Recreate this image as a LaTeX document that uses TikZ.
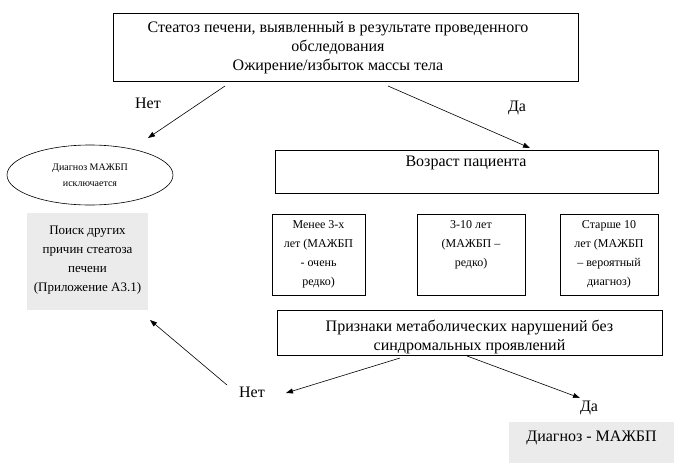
\documentclass[tikz,border=0pt]{standalone}
\usepackage{fontspec}
\setmainfont{Liberation Serif}
\usetikzlibrary{shapes.geometric,arrows.meta}
\begin{document}
\begin{tikzpicture}[x=1pt,y=-1pt,
  box/.style={draw,line width=0.8pt},
  gbox/.style={fill=black!8},
  arr/.style={-{Triangle[length=7pt,width=5pt]},line width=0.6pt},
  t/.style={font=\fontsize{16}{19}\selectfont,align=center,inner sep=0pt},
  ts/.style={font=\fontsize{10}{16}\selectfont,align=center,inner sep=0pt}]
\useasboundingbox (0,0) rectangle (674,463);
\draw[box] (113,13) rectangle (578,81);
\node[t] (top) at (338,48) {Стеатоз печени, выявленный в результате проведенного\\обследования\\Ожирение/избыток массы тела};
\node[ts,draw,ellipse,line width=0.6pt,minimum width=166pt,minimum height=60pt] (ex) at (90,175) {Диагноз МАЖБП\\исключается};
\draw[box] (275,150) rectangle (658,193);
\node[t] (age) at (466,163) {Возраст пациента};
\fill[gbox] (27,213) rectangle (148,310);
\node[t,font=\fontsize{13}{19}\selectfont] (search) at (87.5,260) {Поиск других\\причин стеатоза\\печени\\(Приложение А3.1)};
\draw[box] (272,214) rectangle (365,295);
\node[t,font=\fontsize{12}{19}\selectfont] (a1) at (318.5,254) {Менее 3-х\\лет (МАЖБП\\- очень\\редко)};
\draw[box] (417,214) rectangle (525,295);
\node[t,font=\fontsize{12}{19}\selectfont] (a2) at (471,245) {3-10 лет\\(МАЖБП –\\редко)};
\draw[box] (560,214) rectangle (658,295);
\node[t,font=\fontsize{12}{19}\selectfont] (a3) at (609,254) {Старше 10\\лет (МАЖБП\\– вероятный\\диагноз)};
\draw[box] (277,310) rectangle (662,355);
\node[t] (sig) at (469.5,337) {Признаки метаболических нарушений без\\синдромальных проявлений};
\fill[gbox] (509,422) rectangle (674,463);
\node[t] (diag) at (591.5,438) {Диагноз - МАЖБП};
\node[t] (no1) at (148,103) {Нет};
\node[t] (yes1) at (517,108) {Да};
\node[t] (no2) at (252,392) {Нет};
\node[t] (yes2) at (589,408) {Да};
\coordinate (s1) at (225,86); \coordinate (e1) at (148,138);
\coordinate (s2) at (388,86); \coordinate (e2) at (530,148);
\coordinate (s3) at (400,358); \coordinate (e3) at (286,393);
\coordinate (s4) at (467,356); \coordinate (e4) at (580,398);
\coordinate (s5) at (227,385); \coordinate (e5) at (150,320);
\draw[arr] (s1) -- (e1);
\draw[arr] (s2) -- (e2);
\draw[arr] (s3) -- (e3);
\draw[arr] (s4) -- (e4);
\draw[arr] (s5) -- (e5);
\end{tikzpicture}
\end{document}
